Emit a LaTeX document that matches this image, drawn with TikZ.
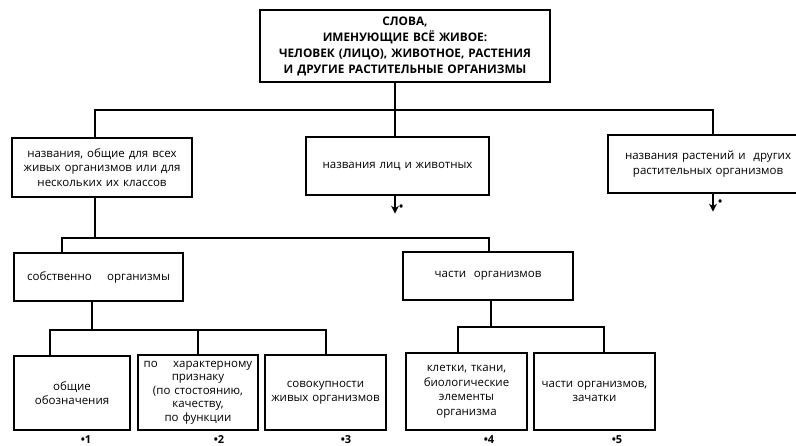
\documentclass[tikz,border=0pt]{standalone}
\usepackage{fontspec}
\setmainfont[WordSpace=1.3]{Open Sans}
\usetikzlibrary{arrows.meta}
\begin{document}
\begin{tikzpicture}[x=1pt,y=-1pt,
  box/.style={draw, line width=1.3pt, rectangle, inner sep=0pt, align=center,
    font=\fontsize{11.5}{14.5}\selectfont},
  conn/.style={line width=1.3pt},
  arr/.style={line width=1.3pt, -{Stealth[length=8pt,width=8pt]}},
  lbl/.style={font=\bfseries\fontsize{11}{11}\selectfont, inner sep=0pt}]
\fill[white] (0,0) rectangle (796,446);
\useasboundingbox (0,0) rectangle (796,446);
\clip (0,0) rectangle (796,446);
% boxes
\node[box, minimum width=290pt, minimum height=72pt,
  font=\bfseries\fontsize{11.8}{16}\selectfont] (top) at (405,46)
  {СЛОВА,\\ИМЕНУЮЩИЕ ВСЁ ЖИВОЕ:\\ЧЕЛОВЕК (ЛИЦО), ЖИВОТНОЕ, РАСТЕНИЯ\\И ДРУГИЕ РАСТИТЕЛЬНЫЕ ОРГАНИЗМЫ};
\node[box, minimum width=180pt, minimum height=59pt] (A) at (102,167.5)
  {названия, общие для всех\\живых организмов или для\\нескольких их классов};
\node[box, minimum width=183pt, minimum height=58pt] (B) at (397.5,166)
  {названия лиц и животных};
\node[box, minimum width=200pt, minimum height=58pt] (C) at (708,164)
  {названия растений и \ других\\растительных организмов};
\node[box, minimum width=169pt, minimum height=48pt] (D) at (98.5,277)
  {собственно \quad организмы};
\node[box, minimum width=170pt, minimum height=48pt] (E) at (488,276)
  {части \ организмов};
\node[box, minimum width=116pt, minimum height=74pt] (b1) at (72,393)
  {общие\\обозначения};
\node[box, minimum width=120pt, minimum height=75pt,
  font=\fontsize{11.5}{13.5}\selectfont] (b2) at (198,392.5)
  {по \quad характерному\\признаку\\(по стостоянию,\\качеству,\\по функции};
\node[box, minimum width=121pt, minimum height=75pt] (b3) at (325.5,392.5)
  {совокупности\\живых организмов};
\node[box, minimum width=121pt, minimum height=77pt] (b4) at (466.5,391.5)
  {клетки, ткани,\\биологические\\элементы\\организма};
\node[box, minimum width=121pt, minimum height=77pt] (b5) at (594.5,391.5)
  {части организмов,\\зачатки};
% junction coordinates
\coordinate (xa) at (95,110);
\coordinate (xm) at (395,110);
\coordinate (xc) at (713,110);
\coordinate (ya) at (95,238);
\coordinate (yd) at (62,238);
\coordinate (ye) at (489,238);
\coordinate (zd) at (92,330);
\coordinate (z1) at (50,330);
\coordinate (z2) at (198,330);
\coordinate (z3) at (326,330);
\coordinate (ze) at (491,327);
\coordinate (z4) at (458,327);
\coordinate (z5) at (604,327);
% connectors
\draw[conn] (top.south -| xm) -- (B.north -| xm);
\draw[conn] (A.north -| xa) -- (xa) -- (xc) -- (C.north -| xc);
\draw[arr] (B.south -| xm) -- ++(0,18) coordinate (ab);
\draw[arr] (C.south -| xc) -- ++(0,18) coordinate (ac);
\node[lbl, anchor=west] (db) at ([xshift=4pt,yshift=6pt]ab) {•};
\node[lbl, anchor=west] (dc) at ([xshift=5pt,yshift=9pt]ac) {•};
\draw[conn] (A.south -| ya) -- (ya);
\draw[conn] (D.north -| yd) -- (yd) -- (ye) -- (E.north -| ye);
\draw[conn] (D.south -| zd) -- (zd);
\draw[conn] (b1.north -| z1) -- (z1) -- (z3) -- (b3.north -| z3);
\draw[conn] (z2) -- (b2.north -| z2);
\draw[conn] (E.south -| ze) -- (ze);
\draw[conn] (b4.north -| z4) -- (z4) -- (z5) -- (b5.north -| z5);
% labels
\node[lbl] (l1) at (86,440) {•1};
\node[lbl] (l2) at (219,440) {•2};
\node[lbl] (l3) at (346,440) {•3};
\node[lbl] (l4) at (489,440) {•4};
\node[lbl] (l5) at (617,440) {•5};
\end{tikzpicture}
\end{document}
